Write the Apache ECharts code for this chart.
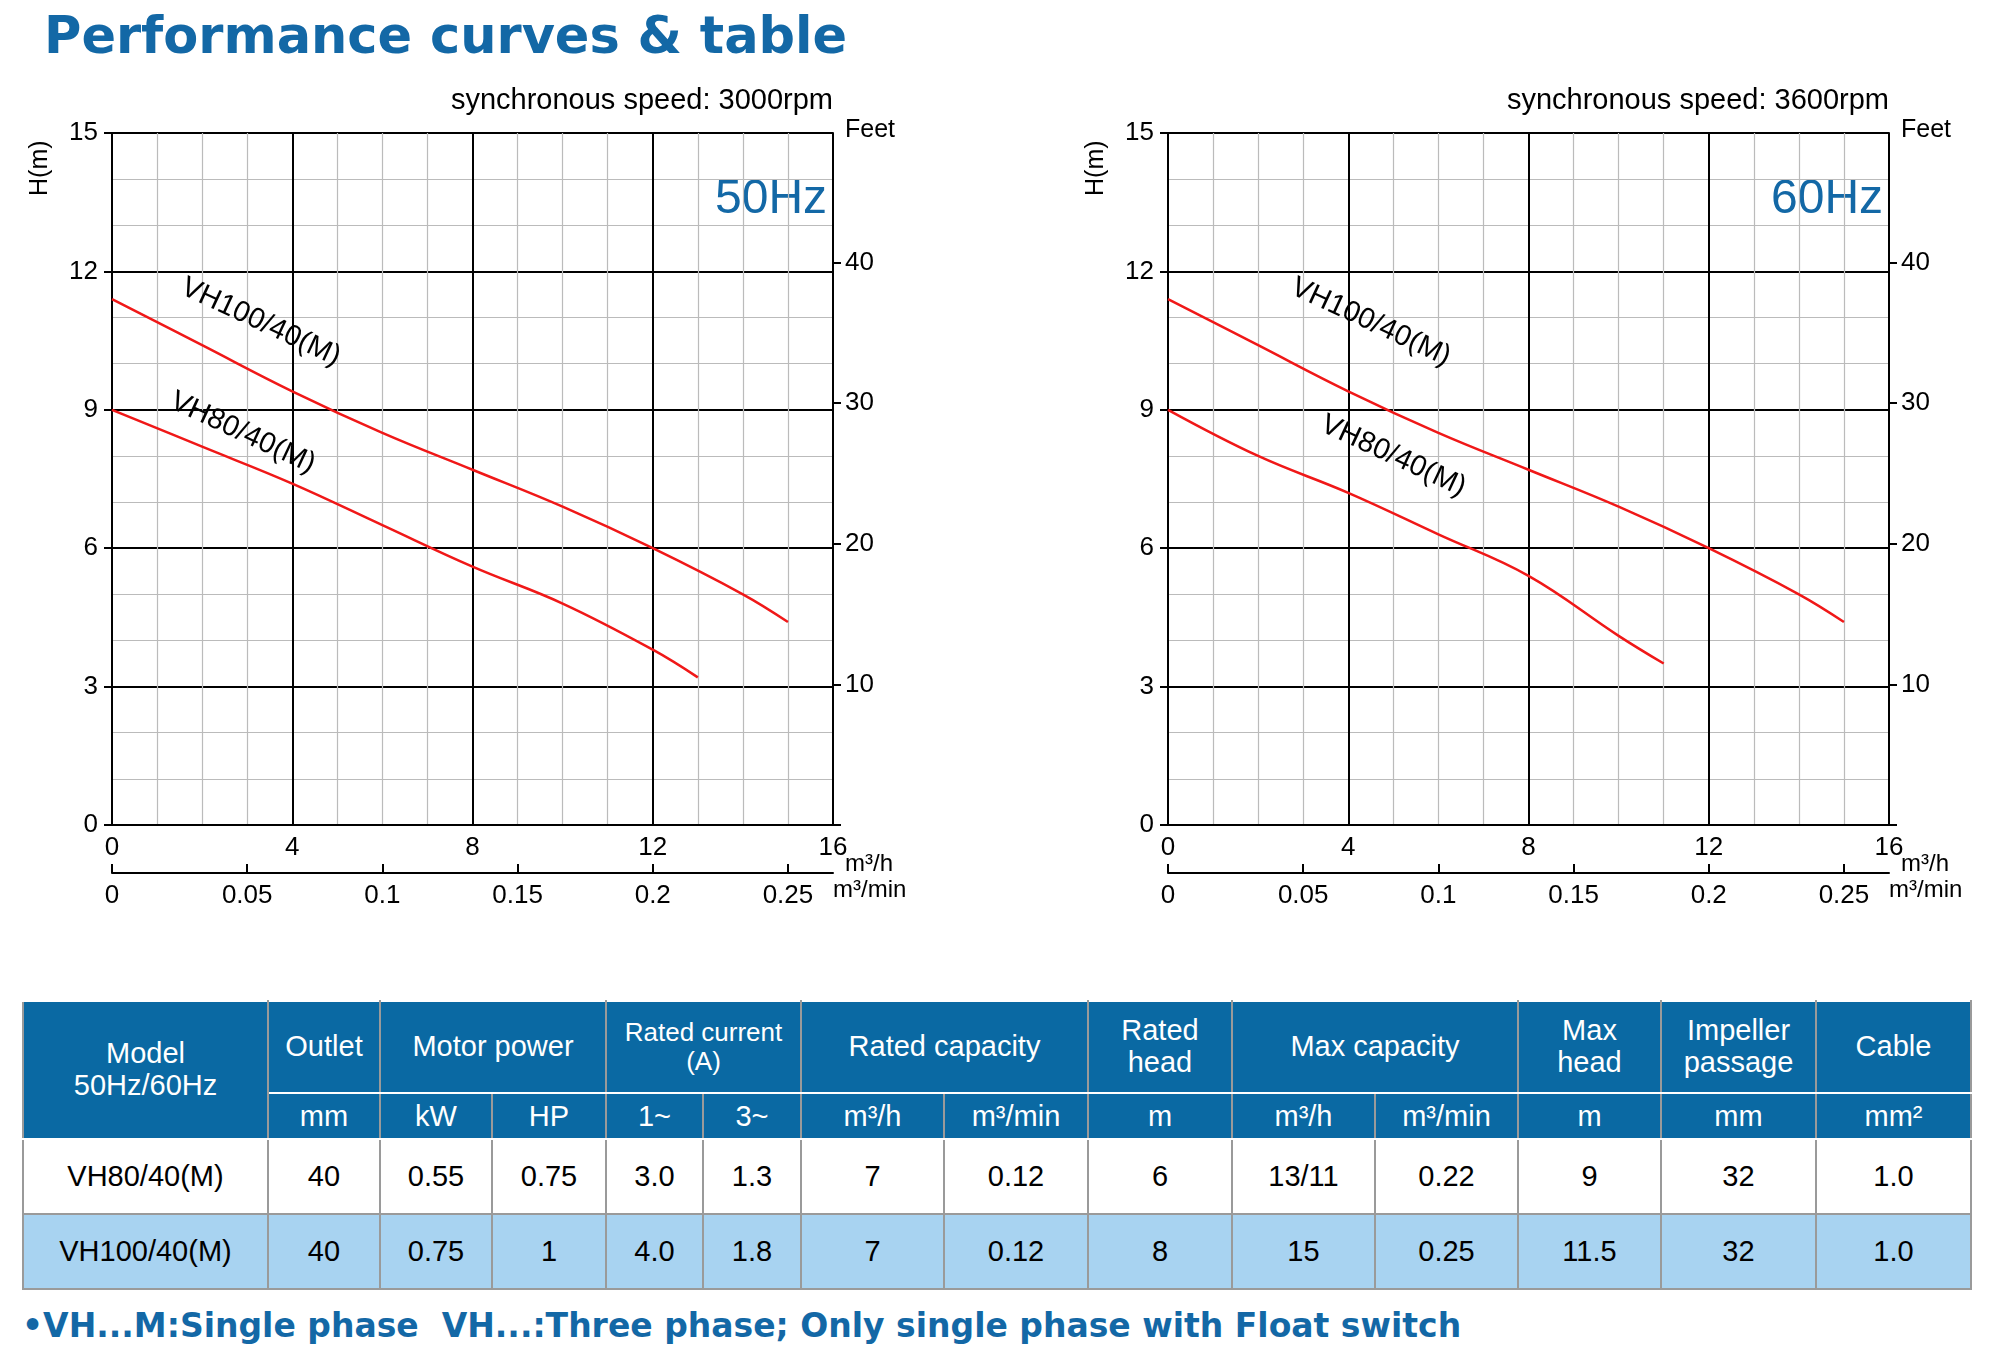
<!DOCTYPE html>
<html>
<head>
<meta charset="utf-8">
<script src="https://cdn.jsdelivr.net/npm/echarts@6/dist/echarts.min.js"></script>
<style>
  body { margin: 0; background: #fff; font-family: "Liberation Sans", Arial, sans-serif; }
  #title { position: absolute; left: 44px; top: 6px; font: 900 51px "DejaVu Sans", sans-serif; color: #1368a6; }
  #chart { position: absolute; left: 0; top: 0; width: 1992px; height: 960px; }
  table { position: absolute; left: 22px; top: 1000px; border-collapse: collapse; font-size: 29px; table-layout: fixed; }
  td { border: 2px solid #9a9a9a; text-align: center; padding: 0; }
  .h td { background: #0a69a3; color: #fff; border-color: #fff #9a9a9a; }
  .r2 td { background: #a8d3f1; }
  #note { position: absolute; left: 22px; top: 1306px; font: bold 33px "DejaVu Sans", sans-serif; color: #1368a6; }
</style>
</head>
<body>
<div id="title">Performance curves &amp; table</div>
<div id="chart"></div>
<div id="tbl"></div>
<div id="note">•VH...M:Single phase&nbsp; VH...:Three phase; Only single phase with Float switch</div>
<script>
// curve data: [flow m3/h, head m]
const vh100_50 = [[0, 11.4], [2, 10.4], [4, 9.4], [6, 8.5], [8, 7.7], [10, 6.9], [12, 6.0], [14, 5.0], [15, 4.4]];
const vh80_50 = [[0, 9.0], [2, 8.2], [4, 7.4], [6, 6.5], [8, 5.6], [10, 4.8], [12, 3.8], [13, 3.2]];
const vh100_60 = [[0, 11.4], [2, 10.4], [4, 9.4], [6, 8.5], [8, 7.7], [10, 6.9], [12, 6.0], [14, 5.0], [15, 4.4]];
const vh80_60 = [[0, 9.0], [2, 8.0], [4, 7.2], [6, 6.3], [8, 5.4], [10, 4.1], [11, 3.5]];

const colWidths = [245, 112, 112, 114, 97, 98, 143, 144, 144, 143, 143, 143, 155, 155];
const headerTop = ['Model<br>50Hz/60Hz', 'Outlet', 'Motor power', 'Rated current<br>(A)', 'Rated capacity', 'Rated<br>head', 'Max capacity', 'Max<br>head', 'Impeller<br>passage', 'Cable'];
const headerSpans = [1, 1, 2, 2, 2, 1, 2, 1, 1, 1];
const units = ['mm', 'kW', 'HP', '1~', '3~', 'm³/h', 'm³/min', 'm', 'm³/h', 'm³/min', 'm', 'mm', 'mm²'];
const rows = [
  ['VH80/40(M)', '40', '0.55', '0.75', '3.0', '1.3', '7', '0.12', '6', '13/11', '0.22', '9', '32', '1.0'],
  ['VH100/40(M)', '40', '0.75', '1', '4.0', '1.8', '7', '0.12', '8', '15', '0.25', '11.5', '32', '1.0']
];

// table
let html = '<table><colgroup>' + colWidths.map(w => `<col style="width:${w}px">`).join('') + '</colgroup>';
html += '<tr class="h" style="height:92px">' + headerTop.map((t, i) =>
  `<td colspan="${headerSpans[i]}" ${i === 0 ? 'rowspan="2"' : ''} style="${i === 3 ? 'font-size:26px;' : ''}line-height:1.1">${t}</td>`).join('') + '</tr>';
html += '<tr class="h" style="height:46px">' + units.map(u => `<td>${u}</td>`).join('') + '</tr>';
rows.forEach((r, k) => {
  html += `<tr class="${k ? 'r2' : ''}" style="height:75px">` + r.map(v => `<td>${v}</td>`).join('') + '</tr>';
});
html += '</table>';
document.getElementById('tbl').innerHTML = html;

const chart = echarts.init(document.getElementById('chart'));
const FT = 3.28084;
const grids = [{ left: 112, top: 133, width: 721, height: 692 }, { left: 1168, top: 133, width: 721, height: 692 }];
const lbl = { color: '#000', fontSize: 26, fontFamily: 'Liberation Sans' };
const line = { onZero: false, lineStyle: { color: '#000', width: 2 } };

const xAxis = [], yAxis = [], series = [], graphic = [];
grids.forEach((g, i) => {
  xAxis.push({
    gridIndex: i, type: 'value', min: 0, max: 16, interval: 4,
    axisLine: line, axisTick: { show: false },
    axisLabel: { ...lbl, margin: 10 },
    splitLine: { lineStyle: { color: '#000', width: 2 } },
    minorTick: { show: false, splitNumber: 4 },
    minorSplitLine: { show: true, lineStyle: { color: '#bbb', width: 1.2 } }
  });
  xAxis.push({
    gridIndex: i, type: 'value', position: 'bottom', offset: 48, min: 0, max: 16 / 60, interval: 0.05,
    axisLine: line,
    axisTick: { inside: true, length: 9, lineStyle: { color: '#000', width: 2 } },
    axisLabel: { ...lbl, margin: 10, showMaxLabel: false, formatter: v => +v.toFixed(2) + '' },
    splitLine: { show: false }
  });
  yAxis.push({
    gridIndex: i, type: 'value', min: 0, max: 15, interval: 3,
    axisLine: { show: true, ...line },
    axisTick: { show: true, length: 8, lineStyle: { color: '#000', width: 2 } },
    axisLabel: { ...lbl, margin: 14 },
    splitLine: { lineStyle: { color: '#000', width: 2 } },
    minorTick: { show: false, splitNumber: 3 },
    minorSplitLine: { show: true, lineStyle: { color: '#bbb', width: 1.2 } }
  });
  yAxis.push({
    gridIndex: i, type: 'value', position: 'right', min: 0, max: 15 * FT, interval: 10,
    axisLine: { show: true, ...line },
    axisTick: { show: true, length: 8, lineStyle: { color: '#000', width: 2 } },
    axisLabel: { ...lbl, margin: 12, showMaxLabel: false, formatter: v => (v ? v : '') },
    splitLine: { show: false }
  });
});

function curve(data, gi, name, labelCoord, rot) {
  return {
    type: 'line', xAxisIndex: gi * 2, yAxisIndex: gi * 2, data, smooth: 0.4, symbol: 'none',
    lineStyle: { color: '#f01818', width: 2.5 },
    markPoint: {
      symbol: 'circle', symbolSize: 1, itemStyle: { color: 'transparent' },
      data: [{ coord: labelCoord, label: { show: true, formatter: name, rotate: rot, ...lbl, fontSize: 29 } }]
    }
  };
}
series.push(curve(vh100_50, 0, 'VH100/40(M)', [3.3, 10.9], -25));
series.push(curve(vh80_50, 0, 'VH80/40(M)', [2.9, 8.5], -25));
series.push(curve(vh100_60, 1, 'VH100/40(M)', [4.5, 10.9], -25));
series.push(curve(vh80_60, 1, 'VH80/40(M)', [5.0, 8.0], -25));

const hz = ['50Hz', '60Hz'], rpm = ['synchronous speed: 3000rpm', 'synchronous speed: 3600rpm'];
const txt = (s, size) => ({ text: s, fill: '#000', font: size + 'px "Liberation Sans"' });
grids.forEach((g, i) => {
  const r = g.left + g.width;
  graphic.push({ type: 'text', right: 1992 - r, top: 86, style: txt(rpm[i], 29) });
  graphic.push({ type: 'text', left: r - 118, top: 176, style: { ...txt(hz[i], 48), fill: '#1368a6' } });
  graphic.push({ type: 'text', left: r + 12, top: 118, style: txt('Feet', 25) });
  graphic.push({ type: 'text', left: 28, x: g.left - 84, y: 196, rotation: Math.PI / 2, style: txt('H(m)', 25) });
  graphic.push({ type: 'text', left: r + 12, top: 852, style: txt('m³/h', 24) });
  graphic.push({ type: 'text', left: r, top: 878, style: txt('m³/min', 24) });
});
// position H(m) labels absolutely
graphic.forEach(o => { if (o.rotation) { delete o.left; } });

chart.setOption({
  animation: false,
  grid: grids,
  xAxis, yAxis, series, graphic
});
</script>
</body>
</html>
